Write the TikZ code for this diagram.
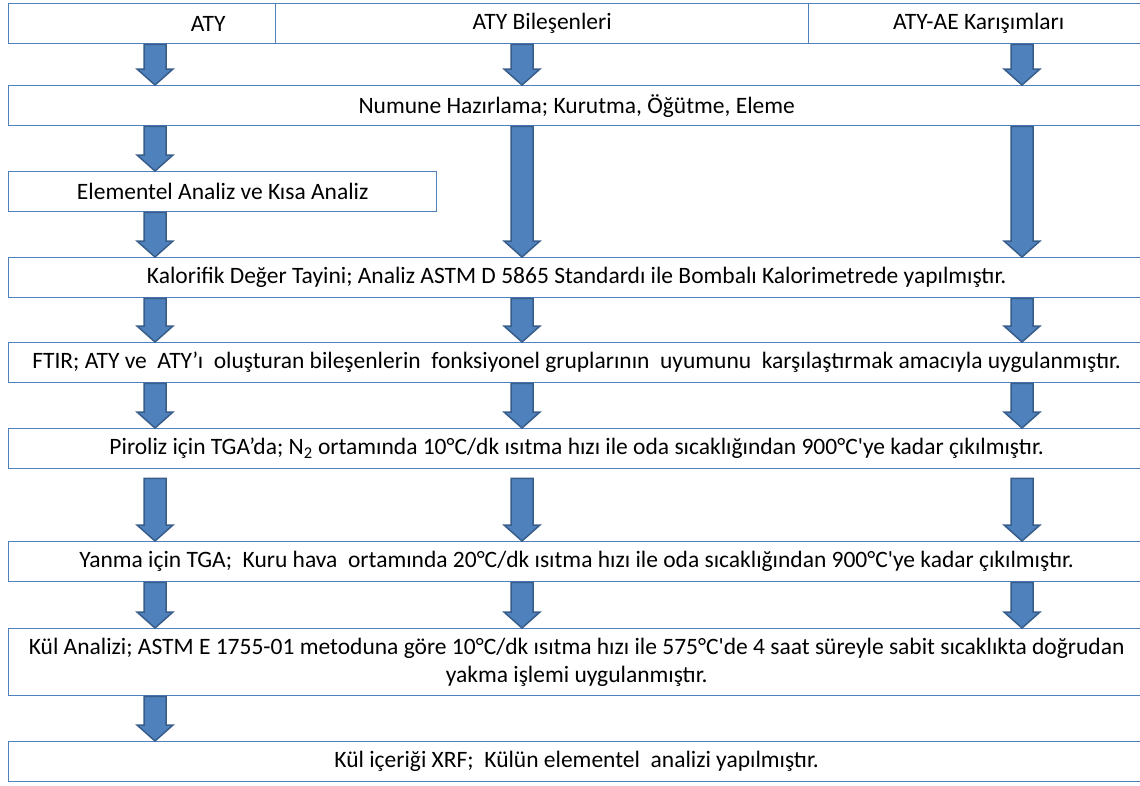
\documentclass[tikz,border=0pt]{standalone}
\usepackage{fontspec}
\setmainfont{Carlito}
\usetikzlibrary{calc}
\definecolor{Frame}{HTML}{4F81BD}
\definecolor{ArrowFill}{HTML}{4F81BD}
\definecolor{ArrowLine}{HTML}{385D8A}
\tikzset{
  stage/.style={draw=Frame,line width=1.4pt,fill=white,text=black,anchor=north west,inner sep=0pt,align=center,minimum height=40pt},
  widestage/.style={stage,minimum width=1136pt},
  blockarrow/.style={fill=ArrowFill,draw=ArrowLine,line width=1.5pt,line join=miter}
}
% [gap below the upper box] x, upper box, lower box
\newcommand{\blockarrow}[4][0]{%
  \path[blockarrow] let \p1=(#3.south), \p2=(#4.north) in
    (#2*1pt-11pt,\y1-#1pt) -- (#2*1pt+11pt,\y1-#1pt) -- (#2*1pt+11pt,\y2+16pt) -- (#2*1pt+18pt,\y2+16pt)
    -- (#2*1pt,\y2) -- (#2*1pt-18pt,\y2+16pt) -- (#2*1pt-11pt,\y2+16pt) -- cycle;}

\begin{document}
\begin{tikzpicture}[x=1pt,y=-1pt,font=\fontsize{23.5}{28}\selectfont]
\useasboundingbox (0,0) rectangle (1140,785);
\clip (0,0) rectangle (1140,785);
% top row
\node[stage,minimum width=267pt,label={[xshift=66pt]center:ATY}] (aty) at (8,3) {};
\node[stage,minimum width=533pt] (bilesen) at (275,3) {ATY Bileşenleri};
\node[stage,minimum width=340pt] (karisim) at (808,3) {ATY-AE Karışımları};
% steps
\node[widestage] (hazirlik) at (8,85) {Numune Hazırlama; Kurutma, Öğütme, Eleme};
\node[stage,minimum width=428pt] (elementel) at (8,171) {Elementel Analiz ve Kısa Analiz};
\node[widestage] (kalorifik) at (8,257) {Kalorifik Değer Tayini; Analiz ASTM D 5865 Standardı ile Bombalı Kalorimetrede yapılmıştır.};
\node[widestage] (ftir) at (8,342) {FTIR; ATY ve\ \ ATY’ı\ \ oluşturan bileşenlerin\ \ fonksiyonel gruplarının\ \ uyumunu\ \ karşılaştırmak amacıyla uygulanmıştır.};
\node[widestage] (piroliz) at (8,428) {Piroliz için TGA’da; N\textsubscript{2} ortamında 10°C/dk ısıtma hızı ile oda sıcaklığından 900°C\textquotesingle ye kadar çıkılmıştır.};
\node[widestage] (yanma) at (8,541) {Yanma için TGA;\ \ Kuru hava\ \ ortamında 20°C/dk ısıtma hızı ile oda sıcaklığından 900°C\textquotesingle ye kadar çıkılmıştır.};
\node[widestage,minimum height=67pt] (kul) at (8,628) {Kül Analizi; ASTM E 1755-01 metoduna göre 10°C/dk ısıtma hızı ile 575°C\textquotesingle de 4 saat süreyle sabit sıcaklıkta doğrudan\\yakma işlemi uygulanmıştır.};
\node[widestage] (xrf) at (8,741) {Kül içeriği XRF;\ \ Külün elementel\ \ analizi yapılmıştır.};
% arrows
\blockarrow{155}{aty}{hazirlik}\blockarrow{522}{bilesen}{hazirlik}\blockarrow{1022}{karisim}{hazirlik}
\blockarrow{155}{hazirlik}{elementel}\blockarrow{522}{hazirlik}{kalorifik}\blockarrow{1022}{hazirlik}{kalorifik}
\blockarrow{155}{elementel}{kalorifik}
\foreach \up/\down in {kalorifik/ftir,ftir/piroliz,yanma/kul}
  \foreach \col in {155,522,1022} {\blockarrow{\col}{\up}{\down}}
\foreach \col in {155,522,1022} {\blockarrow[9]{\col}{piroliz}{yanma}}
\blockarrow{155}{kul}{xrf}
\end{tikzpicture}
\end{document}
